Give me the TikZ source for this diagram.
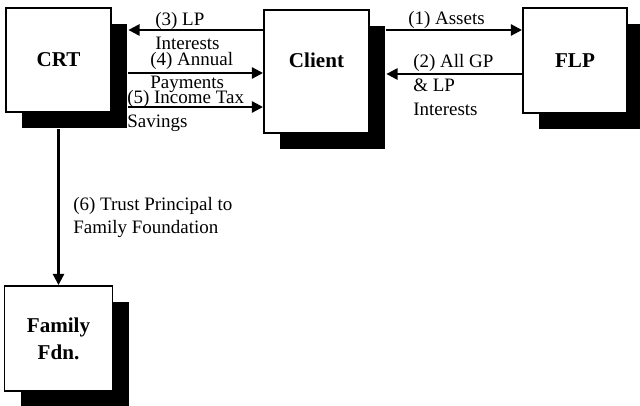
\documentclass[tikz,border=0pt]{standalone}
\usepackage{fontspec}
\setmainfont{Liberation Serif}
\usetikzlibrary{arrows.meta,shadows}

\tikzset{
  box/.style={draw, line width=1.4pt, fill=white, align=center,
    font=\fontsize{15}{19}\selectfont\bfseries,
    drop shadow={shadow xshift=4.1mm, shadow yshift=-4.1mm, opacity=1, fill=black}},
  flow/.style={line width=1.6pt, -{Triangle[length=2.8mm,width=2.8mm]}},
  lbl/.style={font=\fontsize{13.5}{17}\selectfont, align=left, inner sep=0pt, anchor=west}
}

\begin{document}
\begin{tikzpicture}
            \useasboundingbox (0,0) rectangle (16,10.125);
            \clip (0,0) rectangle (16,10.125);

            % Draw boxes
            \node[box, minimum width=2.625cm, minimum height=2.6cm] (crt) at (1.4625,8.625) {CRT};
            \node[box, minimum width=2.625cm, minimum height=3.075cm,
                  label={[font=\fontsize{15}{19}\selectfont\bfseries, yshift=2.9mm]center:Client}] (client) at (7.9125,8.3375) {};
            \node[box, minimum width=2.6cm, minimum height=2.625cm] (flp) at (14.375,8.6125) {FLP};
            \node[box, minimum width=2.7cm, minimum height=2.625cm] (fdn) at (1.4625,1.6625) {Family\\Fdn.};

            % Edges of the shadows
            \coordinate (crtedge) at ([xshift=4.1mm]crt.east);
            \coordinate (crtfoot) at ([yshift=-4.1mm]crt.south);
            \coordinate (clientedge) at ([xshift=4.1mm]client.east);

            % Draw flows
            \draw[flow] (client.west |- 0,9.375) -- (crtedge |- 0,9.375);
            \draw[flow] (crtedge |- 0,8.3) -- (client.west |- 0,8.3);
            \draw[flow] (crtedge |- 0,7.45) -- (client.west |- 0,7.45);
            \draw[flow] (clientedge |- 0,9.375) -- (flp.west |- 0,9.375);
            \draw[flow] (flp.west |- 0,8.275) -- (clientedge |- 0,8.275);
            \draw[flow] (crtfoot) -- (fdn.north);

            % Flow labels
            \node[lbl] (lp) at (3.875,9.34) {(3) LP\\Interests};
            \node[lbl] (annual) at (3.75,8.3125) {(4) Annual\\Payments};
            \node[lbl] (tax) at (3.175,7.35) {(5) Income Tax\\Savings};
            \node[lbl] (assets) at (10.2,9.625) {(1) Assets};
            \node[lbl] (gp) at (10.325,7.99) {(2) All GP\\\& LP\\Interests};
            \node[lbl] (trust) at (1.825,4.6875) {(6) Trust Principal to\\Family Foundation};
        \end{tikzpicture}
\end{document}
